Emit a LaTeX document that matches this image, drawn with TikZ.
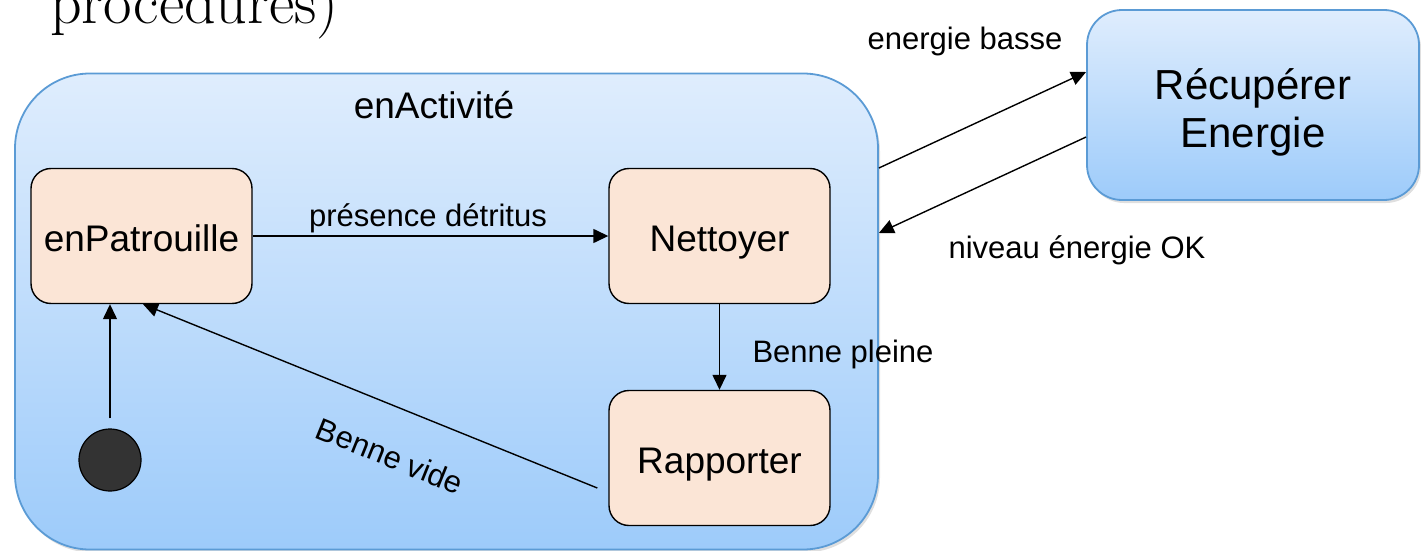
\documentclass[tikz,border=0pt]{standalone}
\usepackage{fontspec}
\setsansfont{Liberation Sans}
\usetikzlibrary{arrows.meta,shadows}
\definecolor{suptop}{RGB}{223,237,253}
\definecolor{supbot}{RGB}{157,203,250}
\definecolor{supline}{RGB}{91,155,213}
\definecolor{statefill}{RGB}{251,229,214}
\definecolor{initfill}{RGB}{51,51,51}
\begin{document}
\begin{tikzpicture}[x=1pt,y=-1pt,
  superstate/.style={draw=supline,line width=1.8pt,rounded corners=#1,
    top color=suptop,bottom color=supbot,
    drop shadow={opacity=0.25,shadow xshift=2pt,shadow yshift=-3pt},
    inner sep=0pt},
  statebox/.style={draw=black,line width=1.4pt,rounded corners=20pt,fill=statefill,
    minimum width=221pt,minimum height=135pt,inner sep=0pt,
    text height=31pt,text depth=0pt,
    font=\sffamily\fontsize{37}{40}\selectfont},
  lbl/.style={inner sep=0pt,font=\sffamily\fontsize{31}{34}\selectfont},
  arr/.style={line width=1.4pt,-{Triangle[length=15pt,width=14pt]}}]
\useasboundingbox (0,0) rectangle (1421,551);

% heading fragment from the slide
\node[anchor=base west,inner sep=0pt,font=\fontsize{62}{66}\selectfont] (head) at (50,24) {procedures)};

% composite state
\node[superstate=75pt,minimum width=863pt,minimum height=476pt] (act) at (446.5,311.5) {};
\node[anchor=base,inner sep=0pt,font=\sffamily\fontsize{37}{40}\selectfont] (actname) at (434,118) {enActivité};

% external state
\node[superstate=35pt,minimum width=332pt,minimum height=190pt,
      font=\sffamily\fontsize{42}{48}\selectfont] (rec) at (1253,105)
  {\raisebox{-15.5pt}[0pt][0pt]{\begin{tabular}{@{}c@{}}Récupérer\\Energie\end{tabular}}};

% inner states
\node[statebox] (pat) at (141.5,236) {enPatrouille};
\node[statebox] (net) at (719.5,236) {Nettoyer};
\node[statebox] (rap) at (719.5,458) {Rapporter};
\node[circle,draw=black,line width=1.2pt,fill=initfill,minimum size=62pt,inner sep=0pt] (init) at (110,460) {};

% transitions
\draw[arr] ([yshift=10pt]init.north) -- (pat.south -| init);
\draw[arr] (pat.east) -- (net.west);
\draw[arr] (net.south) -- (rap.north);
\draw[arr] ([xshift=-11pt,yshift=-30pt]rap.west) -- ([xshift=1.5pt]pat.south);
\draw[arr] ([yshift=143.5pt]act.east) -- ([yshift=33pt]rec.west);
\draw[arr] ([yshift=-32pt]rec.west) -- ([yshift=78.5pt]act.east);

% transition labels
\node[lbl,anchor=base] (l1) at (428,226) {présence détritus};
\node[lbl,anchor=base] (l2) at (843,362) {Benne pleine};
\node[lbl,rotate=-22] (l3) at (390,456) {Benne vide};
\node[lbl,anchor=base] (l4) at (965,49) {energie basse};
\node[lbl,anchor=base] (l5) at (1077,258) {niveau énergie OK};
\end{tikzpicture}
\end{document}
